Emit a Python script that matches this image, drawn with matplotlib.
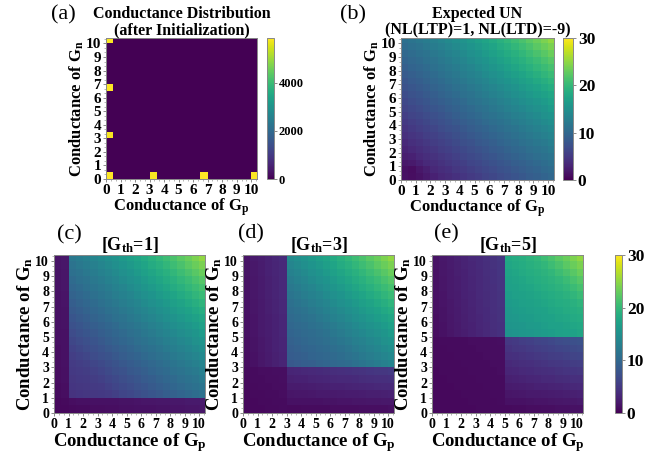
import numpy as np
import matplotlib
matplotlib.use("Agg")
import matplotlib.pyplot as plt
from matplotlib.ticker import MultipleLocator

plt.rcParams['font.family'] = 'Liberation Serif'
plt.rcParams['font.weight'] = 'bold'
plt.rcParams['axes.labelweight'] = 'bold'
plt.rcParams['axes.titleweight'] = 'bold'
plt.rcParams['mathtext.fontset'] = 'custom'
plt.rcParams['mathtext.rm'] = 'Liberation Serif:bold'
plt.rcParams['mathtext.it'] = 'Liberation Serif:bold'
plt.rcParams['mathtext.bf'] = 'Liberation Serif:bold'

# conductance grid: 21 cells of 0.5 from 0 to 10.5
g_edges = np.arange(0, 10.51, 0.5)
tick_vals = list(range(11))

# (a) distribution after initialization
init_gp = [0, 3.33, 6.67, 10, 0, 0, 0]
init_gn = [0, 0, 0, 0, 3.33, 6.67, 10]
init_count = [5850, 5790, 5830, 5810, 5800, 5840, 5820]

# (b) expected UN, rows: Gn = 0 .. 10, columns: Gp = 0 .. 10
expected_un = [
    [1.3, 1.1, 1.5, 2.1, 2.8, 3.3, 3.7, 4.2, 4.6, 5.1, 5.5, 6.0, 6.4, 6.9, 7.3, 7.8, 8.2, 8.7, 9.1, 9.6, 10.0],
    [1.2, 1.0, 1.8, 2.5, 3.3, 3.8, 4.2, 4.7, 5.1, 5.6, 6.0, 6.5, 6.9, 7.4, 7.8, 8.3, 8.7, 9.2, 9.6, 10.1, 10.5],
    [1.8, 2.0, 2.7, 3.4, 3.8, 4.3, 4.7, 5.2, 5.6, 6.1, 6.5, 7.0, 7.4, 7.9, 8.3, 8.8, 9.2, 9.7, 10.1, 10.6, 11.1],
    [2.5, 2.8, 3.4, 3.9, 4.3, 4.8, 5.2, 5.7, 6.1, 6.6, 7.0, 7.5, 7.9, 8.4, 8.9, 9.3, 9.8, 10.2, 10.7, 11.2, 11.6],
    [3.0, 3.5, 3.9, 4.4, 4.8, 5.3, 5.7, 6.2, 6.6, 7.1, 7.6, 8.0, 8.5, 8.9, 9.4, 9.9, 10.3, 10.8, 11.3, 11.7, 12.2],
    [3.5, 4.0, 4.4, 4.9, 5.3, 5.8, 6.2, 6.7, 7.2, 7.6, 8.1, 8.5, 9.0, 9.5, 10.0, 10.4, 10.9, 11.4, 11.9, 12.3, 12.8],
    [4.0, 4.5, 4.9, 5.4, 5.8, 6.3, 6.7, 7.2, 7.7, 8.1, 8.6, 9.1, 9.6, 10.0, 10.5, 11.0, 11.5, 12.0, 12.5, 13.0, 13.5],
    [4.5, 5.0, 5.4, 5.9, 6.3, 6.8, 7.3, 7.7, 8.2, 8.7, 9.2, 9.6, 10.1, 10.6, 11.1, 11.6, 12.1, 12.6, 13.1, 13.6, 14.1],
    [5.0, 5.5, 5.9, 6.4, 6.8, 7.3, 7.8, 8.3, 8.7, 9.2, 9.7, 10.2, 10.7, 11.2, 11.7, 12.2, 12.7, 13.2, 13.8, 14.3, 14.8],
    [5.5, 6.0, 6.4, 6.9, 7.3, 7.8, 8.3, 8.8, 9.3, 9.8, 10.3, 10.8, 11.3, 11.8, 12.3, 12.8, 13.3, 13.9, 14.4, 15.0, 15.5],
    [6.0, 6.5, 6.9, 7.4, 7.9, 8.3, 8.8, 9.3, 9.8, 10.3, 10.8, 11.3, 11.9, 12.4, 12.9, 13.5, 14.0, 14.6, 15.1, 15.7, 16.3],
    [6.5, 7.0, 7.4, 7.9, 8.4, 8.8, 9.3, 9.8, 10.3, 10.9, 11.4, 11.9, 12.4, 13.0, 13.5, 14.1, 14.7, 15.2, 15.8, 16.4, 17.0],
    [7.0, 7.5, 7.9, 8.4, 8.9, 9.4, 9.9, 10.4, 10.9, 11.4, 12.0, 12.5, 13.1, 13.6, 14.2, 14.8, 15.4, 16.0, 16.6, 17.2, 17.8],
    [7.5, 8.0, 8.4, 8.9, 9.4, 9.9, 10.4, 10.9, 11.4, 12.0, 12.5, 13.1, 13.7, 14.2, 14.8, 15.4, 16.1, 16.7, 17.3, 18.0, 18.6],
    [8.0, 8.5, 8.9, 9.4, 9.9, 10.4, 10.9, 11.5, 12.0, 12.6, 13.1, 13.7, 14.3, 14.9, 15.5, 16.1, 16.8, 17.4, 18.1, 18.8, 19.5],
    [8.5, 9.0, 9.4, 9.9, 10.4, 10.9, 11.5, 12.0, 12.6, 13.1, 13.7, 14.3, 14.9, 15.5, 16.2, 16.8, 17.5, 18.2, 18.9, 19.6, 20.3],
    [9.0, 9.5, 9.9, 10.4, 10.9, 11.5, 12.0, 12.5, 13.1, 13.7, 14.3, 14.9, 15.6, 16.2, 16.9, 17.6, 18.3, 19.0, 19.7, 20.4, 21.2],
    [9.5, 10.0, 10.4, 10.9, 11.4, 12.0, 12.5, 13.1, 13.7, 14.3, 14.9, 15.5, 16.2, 16.9, 17.6, 18.3, 19.0, 19.8, 20.5, 21.3, 22.1],
    [10.0, 10.5, 10.9, 11.4, 12.0, 12.5, 13.1, 13.6, 14.2, 14.9, 15.5, 16.2, 16.9, 17.6, 18.3, 19.0, 19.8, 20.6, 21.4, 22.2, 23.1],
    [10.5, 11.0, 11.4, 12.0, 12.5, 13.0, 13.6, 14.2, 14.8, 15.5, 16.1, 16.8, 17.5, 18.3, 19.0, 19.8, 20.6, 21.4, 22.3, 23.1, 24.0],
    [11.0, 11.5, 12.0, 12.5, 13.0, 13.6, 14.2, 14.8, 15.4, 16.1, 16.8, 17.5, 18.2, 19.0, 19.8, 20.6, 21.4, 22.3, 23.2, 24.1, 25.0],
]

# (c) Gth = 1
un_th1 = [
    [0.7, 0.7, 0.8, 0.9, 0.9, 1.0, 1.0, 1.1, 1.1, 1.2, 1.2, 1.3, 1.4, 1.4, 1.5, 1.5, 1.6, 1.6, 1.7, 1.7, 1.8],
    [0.7, 0.8, 1.1, 1.2, 1.2, 1.3, 1.3, 1.4, 1.4, 1.5, 1.5, 1.6, 1.7, 1.7, 1.8, 1.8, 1.9, 1.9, 2.0, 2.0, 2.1],
    [0.9, 1.1, 4.4, 4.6, 4.7, 4.9, 5.0, 5.2, 5.6, 6.1, 6.5, 7.0, 7.4, 7.9, 8.3, 8.8, 9.2, 9.7, 10.1, 10.6, 11.1],
    [0.9, 1.1, 4.6, 4.8, 4.9, 5.1, 5.2, 5.7, 6.1, 6.6, 7.0, 7.5, 7.9, 8.4, 8.9, 9.3, 9.8, 10.2, 10.7, 11.2, 11.6],
    [1.0, 1.2, 4.8, 5.0, 5.1, 5.3, 5.7, 6.2, 6.6, 7.1, 7.6, 8.0, 8.5, 8.9, 9.4, 9.9, 10.3, 10.8, 11.3, 11.7, 12.2],
    [1.0, 1.2, 5.0, 5.2, 5.3, 5.8, 6.2, 6.7, 7.2, 7.6, 8.1, 8.5, 9.0, 9.5, 10.0, 10.4, 10.9, 11.4, 11.9, 12.3, 12.8],
    [1.1, 1.3, 5.2, 5.4, 5.8, 6.3, 6.7, 7.2, 7.7, 8.1, 8.6, 9.1, 9.6, 10.0, 10.5, 11.0, 11.5, 12.0, 12.5, 13.0, 13.5],
    [1.1, 1.3, 5.4, 5.9, 6.3, 6.8, 7.3, 7.7, 8.2, 8.7, 9.2, 9.6, 10.1, 10.6, 11.1, 11.6, 12.1, 12.6, 13.1, 13.6, 14.1],
    [1.1, 1.3, 5.9, 6.4, 6.8, 7.3, 7.8, 8.3, 8.7, 9.2, 9.7, 10.2, 10.7, 11.2, 11.7, 12.2, 12.7, 13.2, 13.8, 14.3, 14.8],
    [1.2, 1.4, 6.4, 6.9, 7.3, 7.8, 8.3, 8.8, 9.3, 9.8, 10.3, 10.8, 11.3, 11.8, 12.3, 12.8, 13.3, 13.9, 14.4, 15.0, 15.5],
    [1.2, 1.4, 6.9, 7.4, 7.9, 8.3, 8.8, 9.3, 9.8, 10.3, 10.8, 11.3, 11.9, 12.4, 12.9, 13.5, 14.0, 14.6, 15.1, 15.7, 16.3],
    [1.3, 1.5, 7.4, 7.9, 8.4, 8.8, 9.3, 9.8, 10.3, 10.9, 11.4, 11.9, 12.4, 13.0, 13.5, 14.1, 14.7, 15.2, 15.8, 16.4, 17.0],
    [1.3, 1.5, 7.9, 8.4, 8.9, 9.4, 9.9, 10.4, 10.9, 11.4, 12.0, 12.5, 13.1, 13.6, 14.2, 14.8, 15.4, 16.0, 16.6, 17.2, 17.8],
    [1.3, 1.5, 8.4, 8.9, 9.4, 9.9, 10.4, 10.9, 11.4, 12.0, 12.5, 13.1, 13.7, 14.2, 14.8, 15.4, 16.1, 16.7, 17.3, 18.0, 18.6],
    [1.4, 1.6, 8.9, 9.4, 9.9, 10.4, 10.9, 11.5, 12.0, 12.6, 13.1, 13.7, 14.3, 14.9, 15.5, 16.1, 16.8, 17.4, 18.1, 18.8, 19.5],
    [1.4, 1.6, 9.4, 9.9, 10.4, 10.9, 11.5, 12.0, 12.6, 13.1, 13.7, 14.3, 14.9, 15.5, 16.2, 16.8, 17.5, 18.2, 18.9, 19.6, 20.3],
    [1.5, 1.7, 9.9, 10.4, 10.9, 11.5, 12.0, 12.5, 13.1, 13.7, 14.3, 14.9, 15.6, 16.2, 16.9, 17.6, 18.3, 19.0, 19.7, 20.4, 21.2],
    [1.5, 1.7, 10.4, 10.9, 11.4, 12.0, 12.5, 13.1, 13.7, 14.3, 14.9, 15.5, 16.2, 16.9, 17.6, 18.3, 19.0, 19.8, 20.5, 21.3, 22.1],
    [1.5, 1.7, 10.9, 11.4, 12.0, 12.5, 13.1, 13.6, 14.2, 14.9, 15.5, 16.2, 16.9, 17.6, 18.3, 19.0, 19.8, 20.6, 21.4, 22.2, 23.1],
    [1.6, 1.8, 11.4, 12.0, 12.5, 13.0, 13.6, 14.2, 14.8, 15.5, 16.1, 16.8, 17.5, 18.3, 19.0, 19.8, 20.6, 21.4, 22.3, 23.1, 24.0],
    [1.6, 1.8, 12.0, 12.5, 13.0, 13.6, 14.2, 14.8, 15.4, 16.1, 16.8, 17.5, 18.2, 19.0, 19.8, 20.6, 21.4, 22.3, 23.2, 24.1, 25.0],
]

# (d) Gth = 3
un_th3 = [
    [0.6, 0.7, 0.7, 0.8, 0.8, 0.9, 0.8, 0.8, 0.9, 0.9, 0.9, 0.9, 1.0, 1.0, 1.0, 1.0, 1.1, 1.1, 1.1, 1.1, 1.2],
    [0.7, 0.7, 0.8, 0.8, 0.9, 0.9, 1.3, 1.3, 1.4, 1.4, 1.4, 1.5, 1.5, 1.6, 1.6, 1.7, 1.7, 1.8, 1.8, 1.9, 1.9],
    [0.7, 0.8, 0.8, 0.9, 0.9, 1.0, 1.7, 1.8, 1.8, 1.9, 2.0, 2.1, 2.1, 2.2, 2.3, 2.3, 2.4, 2.5, 2.5, 2.6, 2.7],
    [0.8, 0.8, 0.9, 0.9, 1.0, 1.0, 2.2, 2.2, 2.3, 2.4, 2.5, 2.6, 2.7, 2.8, 2.9, 3.0, 3.1, 3.2, 3.3, 3.4, 3.5],
    [0.8, 0.9, 0.9, 1.0, 1.0, 1.1, 2.6, 2.7, 2.8, 3.0, 3.1, 3.2, 3.3, 3.4, 3.5, 3.6, 3.8, 3.9, 4.0, 4.1, 4.2],
    [0.9, 0.9, 1.0, 1.0, 1.1, 1.1, 3.1, 3.2, 3.3, 3.5, 3.6, 3.7, 3.9, 4.0, 4.2, 4.3, 4.4, 4.6, 4.7, 4.8, 5.0],
    [1.0, 1.4, 1.8, 2.2, 2.6, 3.0, 8.2, 8.5, 8.8, 9.0, 9.4, 9.7, 10.0, 10.2, 10.5, 11.0, 11.5, 12.0, 12.5, 13.0, 13.5],
    [1.0, 1.4, 1.8, 2.2, 2.6, 3.0, 8.6, 8.8, 9.1, 9.5, 9.8, 10.0, 10.3, 10.6, 11.1, 11.6, 12.1, 12.6, 13.1, 13.6, 14.1],
    [1.1, 1.5, 1.9, 2.3, 2.7, 3.1, 8.9, 9.2, 9.5, 9.8, 10.1, 10.4, 10.7, 11.2, 11.7, 12.2, 12.7, 13.2, 13.8, 14.3, 14.8],
    [1.1, 1.5, 1.9, 2.3, 2.7, 3.1, 9.2, 9.6, 9.9, 10.2, 10.5, 10.8, 11.3, 11.8, 12.3, 12.8, 13.3, 13.9, 14.4, 15.0, 15.5],
    [1.2, 1.6, 2.0, 2.4, 2.8, 3.2, 9.6, 9.9, 10.2, 10.5, 10.8, 11.3, 11.9, 12.4, 12.9, 13.5, 14.0, 14.6, 15.1, 15.7, 16.3],
    [1.2, 1.6, 2.0, 2.4, 2.8, 3.2, 9.9, 10.2, 10.5, 10.9, 11.4, 11.9, 12.4, 13.0, 13.5, 14.1, 14.7, 15.2, 15.8, 16.4, 17.0],
    [1.2, 1.6, 2.0, 2.4, 2.8, 3.2, 10.3, 10.6, 10.9, 11.4, 12.0, 12.5, 13.1, 13.6, 14.2, 14.8, 15.4, 16.0, 16.6, 17.2, 17.8],
    [1.3, 1.7, 2.1, 2.5, 2.9, 3.3, 10.6, 10.9, 11.4, 12.0, 12.5, 13.1, 13.7, 14.2, 14.8, 15.4, 16.1, 16.7, 17.3, 18.0, 18.6],
    [1.3, 1.7, 2.1, 2.5, 2.9, 3.3, 10.9, 11.5, 12.0, 12.6, 13.1, 13.7, 14.3, 14.9, 15.5, 16.1, 16.8, 17.4, 18.1, 18.8, 19.5],
    [1.4, 1.8, 2.2, 2.6, 3.0, 3.4, 11.5, 12.0, 12.6, 13.1, 13.7, 14.3, 14.9, 15.5, 16.2, 16.8, 17.5, 18.2, 18.9, 19.6, 20.3],
    [1.4, 1.8, 2.2, 2.6, 3.0, 3.4, 12.0, 12.5, 13.1, 13.7, 14.3, 14.9, 15.6, 16.2, 16.9, 17.6, 18.3, 19.0, 19.7, 20.4, 21.2],
    [1.4, 1.8, 2.2, 2.6, 3.0, 3.4, 12.5, 13.1, 13.7, 14.3, 14.9, 15.5, 16.2, 16.9, 17.6, 18.3, 19.0, 19.8, 20.5, 21.3, 22.1],
    [1.5, 1.9, 2.3, 2.7, 3.1, 3.5, 13.1, 13.6, 14.2, 14.9, 15.5, 16.2, 16.9, 17.6, 18.3, 19.0, 19.8, 20.6, 21.4, 22.2, 23.1],
    [1.5, 1.9, 2.3, 2.7, 3.1, 3.5, 13.6, 14.2, 14.8, 15.5, 16.1, 16.8, 17.5, 18.3, 19.0, 19.8, 20.6, 21.4, 22.3, 23.1, 24.0],
    [1.6, 2.0, 2.4, 2.8, 3.2, 3.6, 14.2, 14.8, 15.4, 16.1, 16.8, 17.5, 18.2, 19.0, 19.8, 20.6, 21.4, 22.3, 23.2, 24.1, 25.0],
]

# (e) Gth = 5
un_th5 = [
    [0.6, 0.6, 0.7, 0.7, 0.7, 0.7, 0.8, 0.8, 0.8, 0.8, 0.8, 0.9, 0.9, 1.0, 1.0, 1.1, 1.1, 1.2, 1.2, 1.3, 1.3],
    [0.6, 0.7, 0.7, 0.7, 0.7, 0.8, 0.8, 0.8, 0.8, 0.9, 1.3, 1.3, 1.4, 1.5, 1.6, 1.6, 1.7, 1.8, 1.9, 1.9, 2.0],
    [0.7, 0.7, 0.7, 0.7, 0.8, 0.8, 0.8, 0.8, 0.9, 0.9, 1.7, 1.8, 1.9, 2.0, 2.1, 2.2, 2.3, 2.4, 2.5, 2.6, 2.7],
    [0.7, 0.7, 0.7, 0.8, 0.8, 0.8, 0.8, 0.9, 0.9, 0.9, 2.2, 2.3, 2.4, 2.5, 2.7, 2.8, 2.9, 3.0, 3.2, 3.3, 3.4],
    [0.7, 0.7, 0.8, 0.8, 0.8, 0.8, 0.9, 0.9, 0.9, 0.9, 2.6, 2.8, 2.9, 3.1, 3.2, 3.4, 3.5, 3.7, 3.8, 4.0, 4.1],
    [0.7, 0.8, 0.8, 0.8, 0.8, 0.9, 0.9, 0.9, 0.9, 1.0, 3.1, 3.2, 3.4, 3.6, 3.8, 3.9, 4.1, 4.3, 4.5, 4.6, 4.8],
    [0.8, 0.8, 0.8, 0.8, 0.9, 0.9, 0.9, 0.9, 1.0, 1.0, 3.5, 3.7, 3.9, 4.1, 4.3, 4.5, 4.7, 4.9, 5.1, 5.3, 5.5],
    [0.8, 0.8, 0.8, 0.9, 0.9, 0.9, 0.9, 1.0, 1.0, 1.0, 4.0, 4.2, 4.4, 4.6, 4.9, 5.1, 5.3, 5.5, 5.8, 6.0, 6.2],
    [0.8, 0.8, 0.9, 0.9, 0.9, 0.9, 1.0, 1.0, 1.0, 1.0, 4.4, 4.7, 4.9, 5.2, 5.4, 5.7, 5.9, 6.2, 6.4, 6.7, 6.9],
    [0.8, 0.9, 0.9, 0.9, 0.9, 1.0, 1.0, 1.0, 1.0, 1.1, 4.9, 5.1, 5.4, 5.7, 6.0, 6.2, 6.5, 6.8, 7.1, 7.3, 7.6],
    [1.0, 1.4, 1.7, 2.1, 2.4, 2.8, 3.1, 3.5, 3.8, 4.2, 15.3, 15.5, 15.8, 15.9, 16.1, 16.4, 16.6, 16.9, 17.0, 17.3, 17.6],
    [1.1, 1.4, 1.8, 2.1, 2.5, 2.8, 3.2, 3.5, 3.9, 4.2, 15.6, 15.8, 15.9, 16.2, 16.4, 16.7, 17.0, 17.1, 17.4, 17.7, 18.0],
    [1.1, 1.5, 1.8, 2.2, 2.5, 2.9, 3.2, 3.6, 3.9, 4.3, 15.9, 16.0, 16.3, 16.5, 16.8, 17.1, 17.3, 17.6, 17.9, 18.2, 18.4],
    [1.2, 1.5, 1.9, 2.2, 2.6, 2.9, 3.3, 3.6, 4.0, 4.3, 16.0, 16.3, 16.6, 16.8, 17.1, 17.3, 17.7, 18.0, 18.3, 18.6, 18.9],
    [1.2, 1.6, 1.9, 2.3, 2.6, 3.0, 3.3, 3.7, 4.0, 4.4, 16.3, 16.6, 16.9, 17.2, 17.4, 17.7, 18.1, 18.4, 18.7, 19.1, 19.5],
    [1.3, 1.6, 2.0, 2.3, 2.7, 3.0, 3.4, 3.7, 4.1, 4.4, 16.6, 16.9, 17.2, 17.4, 17.8, 18.1, 18.5, 18.8, 19.2, 19.6, 20.3],
    [1.3, 1.7, 2.0, 2.4, 2.7, 3.1, 3.4, 3.8, 4.1, 4.5, 16.9, 17.2, 17.5, 17.8, 18.2, 18.6, 18.9, 19.3, 19.7, 20.4, 21.2],
    [1.4, 1.7, 2.1, 2.4, 2.8, 3.1, 3.5, 3.8, 4.2, 4.5, 17.2, 17.4, 17.8, 18.2, 18.6, 18.9, 19.3, 19.8, 20.5, 21.3, 22.1],
    [1.4, 1.8, 2.1, 2.5, 2.8, 3.2, 3.5, 3.9, 4.2, 4.6, 17.4, 17.8, 18.2, 18.6, 18.9, 19.3, 19.8, 20.6, 21.4, 22.2, 23.1],
    [1.5, 1.8, 2.2, 2.5, 2.9, 3.2, 3.6, 3.9, 4.3, 4.6, 17.7, 18.1, 18.5, 18.9, 19.3, 19.8, 20.6, 21.4, 22.3, 23.1, 24.0],
    [1.5, 1.9, 2.2, 2.6, 2.9, 3.3, 3.6, 4.0, 4.3, 4.7, 18.1, 18.5, 18.8, 19.3, 19.8, 20.6, 21.4, 22.3, 23.2, 24.1, 25.0],
]

W, H = 670, 457
fig = plt.figure(figsize=(W / 100, H / 100), dpi=100)


def box(l, t, r, b):
    return [l / W, 1 - b / H, (r - l) / W, (b - t) / H]


def style(ax, tick_fs, label_fs):
    ax.set_xlim(0, 10.4)
    ax.set_ylim(0, 10.4)
    ax.set_xticks(tick_vals)
    ax.set_yticks(tick_vals)
    ax.set_xticklabels([str(t) for t in tick_vals], fontweight='bold')
    ax.set_yticklabels([str(t) for t in tick_vals], fontweight='bold')
    ax.xaxis.set_minor_locator(MultipleLocator(1 / 3))
    ax.yaxis.set_minor_locator(MultipleLocator(1 / 3))
    ax.tick_params(which='major', length=2.5, width=0.6, color='#777777',
                   labelsize=tick_fs, pad=1)
    ax.tick_params(which='minor', length=1.5, width=0.5, color='#999999')
    for s in ax.spines.values():
        s.set_color('#888888')
        s.set_linewidth(0.7)
    ax.set_xlabel('Conductance of G$_\\mathrm{p}$', fontsize=label_fs,
                  fontweight='bold', labelpad=0)
    ax.set_ylabel('Conductance of G$_\\mathrm{n}$', fontsize=label_fs,
                  fontweight='bold', labelpad=0)


def style_cbar(cb, fs):
    cb.ax.tick_params(labelsize=fs, length=2.5, width=0.6, color='#777777', pad=1)
    for t in cb.ax.get_yticklabels():
        t.set_fontweight('bold')
    cb.outline.set_edgecolor('#888888')
    cb.outline.set_linewidth(0.7)


# (a)
ax_a = fig.add_axes(box(106, 38, 257, 179))
dist, _, _ = np.histogram2d(init_gn, init_gp, bins=(g_edges, g_edges), weights=init_count)
m_a = ax_a.pcolormesh(g_edges, g_edges, dist, cmap='viridis', vmin=0, vmax=max(init_count))
style(ax_a, 11, 12)
ax_a.set_title('Conductance Distribution\n(after Initialization)', fontsize=11.5,
               fontweight='bold', pad=2, linespacing=1.0)
cax_a = fig.add_axes(box(267, 38, 274, 179))
cb_a = fig.colorbar(m_a, cax=cax_a, ticks=[0, 2000, 4000])
style_cbar(cb_a, 9)

# (b)
ax_b = fig.add_axes(box(401, 38, 554, 180))
m_b = ax_b.pcolormesh(g_edges, g_edges, np.array(expected_un), cmap='viridis', vmin=0, vmax=30)
style(ax_b, 11, 12)
ax_b.set_title('Expected UN\n(NL(LTP)=1, NL(LTD)=-9)', fontsize=11.5,
               fontweight='bold', pad=2, linespacing=1.0)
cax_b = fig.add_axes(box(563, 38, 573, 180))
cb_b = fig.colorbar(m_b, cax=cax_b, ticks=[0, 10, 20, 30])
style_cbar(cb_b, 12.5)

# (c) - (e)
th_maps = [un_th1, un_th3, un_th5]
th_titles = ['[G$_\\mathrm{th}$=1]', '[G$_\\mathrm{th}$=3]', '[G$_\\mathrm{th}$=5]']
th_left = [54, 243, 432]
for data, title, left in zip(th_maps, th_titles, th_left):
    ax = fig.add_axes(box(left, 255, left + 151, 413))
    m = ax.pcolormesh(g_edges, g_edges, np.array(data), cmap='viridis', vmin=0, vmax=30)
    style(ax, 10, 13.5)
    ax.set_title(title, fontsize=13, fontweight='bold', pad=3)

cax_e = fig.add_axes(box(615, 255, 622, 413))
cb_e = fig.colorbar(m, cax=cax_e, ticks=[0, 10, 20, 30])
style_cbar(cb_e, 12.5)

# panel letters
for lbl, x, y in [('(a)', 63, 15), ('(b)', 353, 15), ('(c)', 69, 235),
                  ('(d)', 251, 234), ('(e)', 446, 234)]:
    fig.text(x / W, 1 - y / H, lbl, fontsize=16, fontweight='normal',
             ha='center', va='center')

fig.savefig('out.png', dpi=100)
